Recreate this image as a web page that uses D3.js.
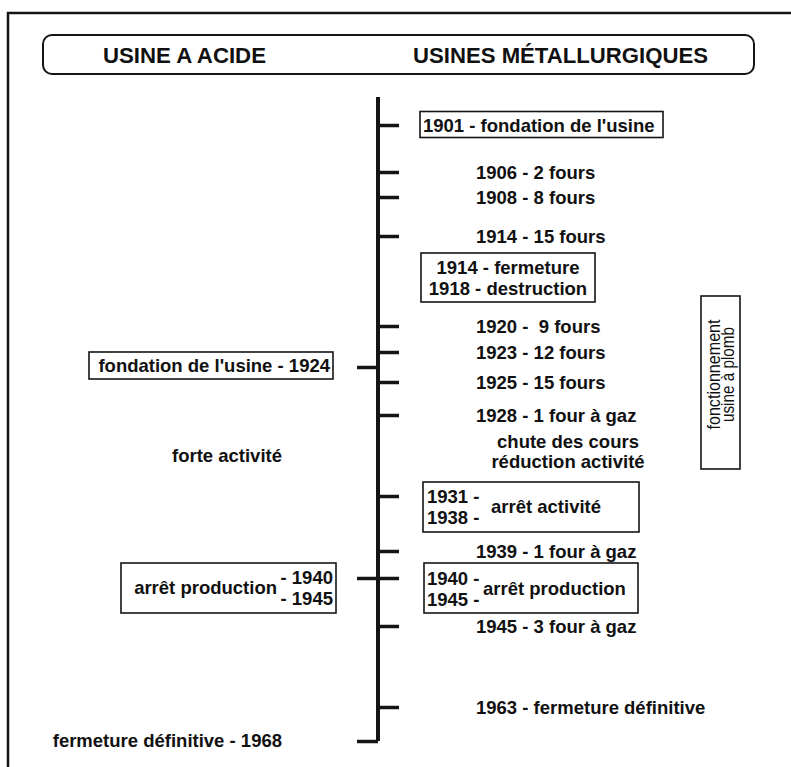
<!DOCTYPE html>
<html>
<head>
<meta charset="utf-8">
<script src="https://cdn.jsdelivr.net/npm/d3@7"></script>
<style>
  html, body { margin: 0; padding: 0; background: #fff; }
  svg { display: block; }
  text { font-family: "Liberation Sans", Arial, Helvetica, sans-serif; fill: #111; white-space: pre; }
</style>
</head>
<body>
<svg id="chart" width="791" height="767"></svg>
<script>
// ---------------- DATA ----------------
const headers = ["USINE A ACIDE", "USINES MÉTALLURGIQUES"];

// schematic (non-uniform) time axis: years marked on the line
const axisYears = [1901, 1906, 1908, 1914, 1920, 1923, 1924, 1925, 1928, 1931, 1939, 1940, 1945, 1963, 1968];
const axisStops = [125, 172, 197, 236, 326, 352, 367, 382, 415, 496, 551, 578, 626, 707, 741];

const rightTickYears = [1901, 1906, 1908, 1914, 1920, 1923, 1925, 1928, 1931, 1939, 1940, 1945, 1963];
const leftTickYears = [1924, 1940, 1968];

// metallurgical plants (right side)
const rightPlainYears = [1906, 1908, 1914, 1920, 1923, 1925, 1928, 1939, 1945, 1963];
const rightPlainTexts = [
  "1906 - 2 fours", "1908 - 8 fours", "1914 - 15 fours", "1920 -  9 fours",
  "1923 - 12 fours", "1925 - 15 fours", "1928 - 1 four à gaz", "1939 - 1 four à gaz",
  "1945 - 3 four à gaz", "1963 - fermeture définitive"
];
const foundationRight = { year: 1901, text: "1901 - fondation de l'usine" };
const warBox = { from: 1914, to: 1920, lines: ["1914 - fermeture", "1918 - destruction"] };
const crisisNote = { from: 1928, to: 1931, lines: ["chute des cours", "réduction activité"] };
const stopActivity = { year: 1931, years: ["1931 -", "1938 -"], text: "arrêt activité" };
const stopProdRight = { year: 1940, years: ["1940 -", "1945 -"], text: "arrêt production" };
const leadPeriod = { from: 1918, to: 1930, lines: ["fonctionnement", "usine à plomb"] };

// acid plant (left side)
const foundationLeft = { year: 1924, text: "fondation de l'usine - 1924" };
const strongActivity = { from: 1928, to: 1931, text: "forte activité" };
const stopProdLeft = { year: 1940, years: ["- 1940", "- 1945"], text: "arrêt production" };
const closureLeft = { year: 1968, text: "fermeture définitive - 1968" };

// ---------------- DRAW ----------------
const svg = d3.select("#chart");
const W = 791, H = 767;
svg.append("rect").attr("width", W).attr("height", H).attr("fill", "#fff");

const y = d3.scaleLinear().domain(axisYears).range(axisStops);
const axisX = 378;
const FS = 18.5;
const bold = sel => sel.attr("font-size", FS).attr("font-weight", "bold");
const ink = "#151515";

// outer frame (top + left)
svg.append("path").attr("d", `M8,${H} V13 H${W}`)
  .attr("fill", "none").attr("stroke", ink).attr("stroke-width", 2.5);

// header
svg.append("rect").attr("x", 43).attr("y", 35).attr("width", 711).attr("height", 39)
  .attr("rx", 9).attr("fill", "none").attr("stroke", ink).attr("stroke-width", 2);
const hx = [103, 413], hl = [163, 295];
svg.selectAll("text.hdr").data(headers).join("text").attr("class", "hdr")
  .attr("x", (d, i) => hx[i]).attr("y", 63).attr("text-anchor", "start")
  .attr("font-size", 22.5).attr("font-weight", "bold")
  .attr("textLength", (d, i) => hl[i]).attr("lengthAdjust", "spacingAndGlyphs")
  .text(d => d);

// timeline line
svg.append("line").attr("x1", axisX).attr("x2", axisX)
  .attr("y1", y(1901) - 28).attr("y2", y(1968))
  .attr("stroke", ink).attr("stroke-width", 4);

// ticks via axes
const ra = svg.append("g").attr("transform", `translate(${axisX},0)`)
  .call(d3.axisRight(y).tickValues(rightTickYears).tickSize(21).tickSizeOuter(0).tickFormat(""));
const la = svg.append("g").attr("transform", `translate(${axisX},0)`)
  .call(d3.axisLeft(y).tickValues(leftTickYears).tickSize(21).tickSizeOuter(0).tickFormat(""));
[ra, la].forEach(g => {
  g.select(".domain").remove();
  g.selectAll(".tick line").attr("stroke", ink).attr("stroke-width", 3.5);
});

const DY = "0.36em";
function boxAround(g, x0, x1, y0, y1) {
  g.insert("rect", ":first-child").attr("x", x0).attr("y", y0)
    .attr("width", x1 - x0).attr("height", y1 - y0)
    .attr("fill", "none").attr("stroke", ink).attr("stroke-width", 1.6);
}

// right plain labels
svg.selectAll("text.rp").data(rightPlainYears).join("text").attr("class", "rp")
  .attr("x", 476).attr("y", d => y(d)).attr("dy", DY)
  .call(bold).text((d, i) => rightPlainTexts[i]);

// 1901 box
{
  const g = svg.append("g");
  const cy = y(foundationRight.year);
  g.append("text").attr("x", 423).attr("y", cy).attr("dy", DY).call(bold).text(foundationRight.text);
  boxAround(g, 420, 663, cy - 13.5, cy + 12.5);
}
// war box
{
  const g = svg.append("g");
  const c = (y(warBox.from) + y(warBox.to)) / 2 - 3.5;
  g.selectAll("text").data(warBox.lines).join("text")
    .attr("x", 508).attr("y", (d, i) => c + (i === 0 ? -10.5 : 10.5)).attr("dy", DY)
    .attr("text-anchor", "middle").call(bold).text(d => d);
  boxAround(g, 421, 595, c - 24.5, c + 24.5);
}
// crisis note
{
  const c = (y(crisisNote.from) + y(crisisNote.to)) / 2;
  svg.selectAll("text.cn").data(crisisNote.lines).join("text").attr("class", "cn")
    .attr("x", 568).attr("y", (d, i) => c + (i === 0 ? -14 : 6)).attr("dy", DY)
    .attr("text-anchor", "middle").call(bold).text(d => d);
}
// stop boxes (right)
[[stopActivity, 423, 639, 491, -14], [stopProdRight, 424, 638, 483, -15]].forEach(([b, x0, x1, tx, top]) => {
  const g = svg.append("g");
  const cy = y(b.year);
  g.selectAll("text.yr").data(b.years).join("text").attr("class", "yr")
    .attr("x", 427).attr("y", (d, i) => cy + i * 21).attr("dy", DY).call(bold).text(d => d);
  g.append("text").attr("x", tx).attr("y", cy + 10.5).attr("dy", DY).call(bold).text(b.text);
  boxAround(g, x0, x1, cy + top, cy + top + 50);
});
// lead plant box (rotated)
{
  const g = svg.append("g");
  const y0 = y(leadPeriod.from), y1 = y(leadPeriod.to);
  const cx = 720.5, cy = (y0 + y1) / 2;
  g.append("rect").attr("x", 701).attr("y", y0).attr("width", 39).attr("height", y1 - y0)
    .attr("fill", "none").attr("stroke", ink).attr("stroke-width", 1.6);
  const lens = [110, 95];
  g.selectAll("text").data(leadPeriod.lines).join("text")
    .attr("transform", `translate(${cx},${cy - 8}) rotate(-90)`)
    .attr("x", 0).attr("y", (d, i) => i === 0 ? -1 : 13.5)
    .attr("text-anchor", "middle").attr("font-size", 19)
    .attr("textLength", (d, i) => lens[i]).attr("lengthAdjust", "spacingAndGlyphs")
    .text(d => d);
}

// left side
{
  const g = svg.append("g");
  const cy = y(foundationLeft.year);
  g.append("text").attr("x", 330).attr("y", cy - 1.5).attr("dy", DY)
    .attr("text-anchor", "end").call(bold).text(foundationLeft.text);
  boxAround(g, 89, 333, cy - 15, cy + 12);
}
{
  const c = (y(strongActivity.from) + y(strongActivity.to)) / 2;
  svg.append("text").attr("x", 227).attr("y", c).attr("dy", DY)
    .attr("text-anchor", "middle").call(bold).text(strongActivity.text);
}
{
  const g = svg.append("g");
  const cy = y(stopProdLeft.year);
  g.selectAll("text.yr").data(stopProdLeft.years).join("text").attr("class", "yr")
    .attr("x", 333).attr("y", (d, i) => cy - 1 + i * 21).attr("dy", DY)
    .attr("text-anchor", "end").call(bold).text(d => d);
  g.append("text").attr("x", 277).attr("y", cy + 9.5).attr("dy", DY)
    .attr("text-anchor", "end").call(bold).text(stopProdLeft.text);
  boxAround(g, 121, 336, cy - 15, cy + 35);
}
svg.append("text").attr("x", 282).attr("y", y(closureLeft.year) - 1).attr("dy", DY)
  .attr("text-anchor", "end").call(bold).text(closureLeft.text);
</script>
</body>
</html>
